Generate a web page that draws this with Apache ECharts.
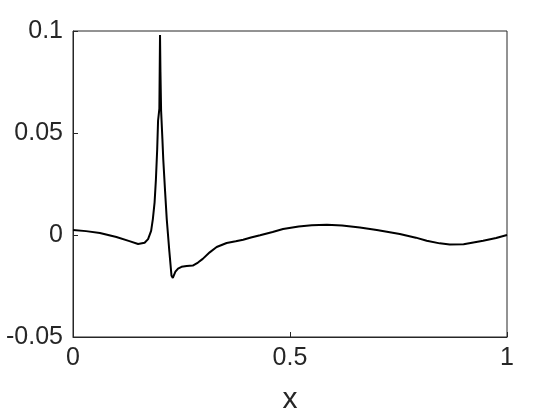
<!DOCTYPE html>
<html>
<head>
<meta charset="utf-8">
<script src="https://cdn.jsdelivr.net/npm/echarts@6/dist/echarts.min.js"></script>
<style>html,body{margin:0;padding:0;background:#fff}#main{width:560px;height:420px}</style>
</head>
<body>
<div id="main"></div>
<script>
var xs = [0, 0.03, 0.062, 0.10, 0.13, 0.15, 0.165, 0.173, 0.18, 0.184, 0.188, 0.191, 0.194, 0.196, 0.199, 0.2005, 0.2015, 0.203, 0.206, 0.208, 0.212, 0.216, 0.222, 0.227, 0.230, 0.236, 0.242, 0.250, 0.262, 0.276, 0.288, 0.299, 0.315, 0.331, 0.354, 0.375, 0.392, 0.41, 0.431, 0.46, 0.484, 0.52, 0.55, 0.585, 0.62, 0.661, 0.70, 0.753, 0.79, 0.815, 0.845, 0.868, 0.90, 0.945, 0.975, 1.0];
var ys = [0.0024, 0.0019, 0.0010, -0.0010, -0.0030, -0.0044, -0.0038, -0.0020, 0.0020, 0.0078, 0.016, 0.027, 0.042, 0.056, 0.062, 0.098, 0.080, 0.061, 0.047, 0.037, 0.022, 0.0078, -0.008, -0.020, -0.021, -0.018, -0.0165, -0.0156, -0.0152, -0.015, -0.0135, -0.0117, -0.0085, -0.0059, -0.0039, -0.0031, -0.0023, -0.0012, -0.0001, 0.0015, 0.0029, 0.0042, 0.0048, 0.0050, 0.0046, 0.0037, 0.0025, 0.0005, -0.0013, -0.0028, -0.0041, -0.0047, -0.0045, -0.0028, -0.0015, 0.0];
var xTicks = [0, 0.5, 1];
var yTicks = [-0.05, 0, 0.05, 0.1];

var pts = xs.map(function (x, i) { return [x, ys[i]]; });
var chart = echarts.init(document.getElementById('main'));
var font = 'Liberation Sans, Arial, sans-serif';
chart.setOption({
    animation: false,
    grid: {
        left: 73, right: 53, top: 31, bottom: 81,
        show: true, borderColor: '#262626', borderWidth: 1
    },
    xAxis: {
        type: 'value', min: 0, max: 1, interval: 0.5,
        name: 'x', nameLocation: 'middle', nameGap: 48,
        nameTextStyle: { fontSize: 30, color: '#262626', fontFamily: font },
        axisLine: { show: true, onZero: false, lineStyle: { color: '#262626' } },
        axisTick: { show: true, inside: true, length: 5, lineStyle: { color: '#262626' } },
        axisLabel: { fontSize: 25, color: '#262626', fontFamily: font, margin: 9,
            formatter: function (v) { return xTicks.indexOf(v) >= 0 ? String(v) : ''; } },
        splitLine: { show: false }
    },
    yAxis: {
        type: 'value', min: -0.05, max: 0.1, interval: 0.05,
        axisLine: { show: true, onZero: false, lineStyle: { color: '#262626' } },
        axisTick: { show: true, inside: true, length: 5, lineStyle: { color: '#262626' } },
        axisLabel: { fontSize: 25, color: '#262626', fontFamily: font, margin: 10,
            formatter: function (v) {
                var r = Math.round(v * 100) / 100;
                return yTicks.indexOf(r) >= 0 ? String(r) : '';
            } },
        splitLine: { show: false }
    },
    series: [{
        type: 'line',
        data: pts,
        showSymbol: false,
        lineStyle: { color: '#000', width: 2 }
    }]
});
</script>
</body>
</html>
